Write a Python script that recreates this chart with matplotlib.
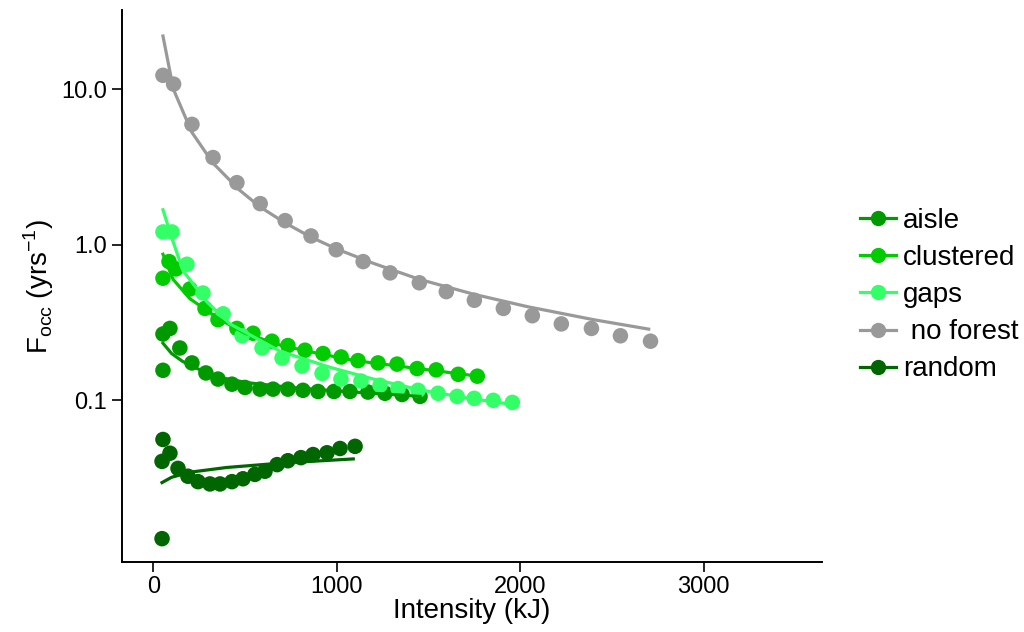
import numpy as np
import matplotlib.pyplot as plt

plt.rcParams['font.family'] = ['Liberation Sans', 'DejaVu Sans']

# points (x in kJ, y in yrs^-1)
aisle_x = [53, 53, 91, 145, 211, 287, 353, 429, 500, 582, 653, 734, 816, 898, 985, 1072, 1170, 1263, 1356, 1454]
aisle_y = [0.267, 0.156, 0.29, 0.217, 0.174, 0.15, 0.137, 0.127, 0.121, 0.118, 0.118, 0.118, 0.116, 0.114,
           0.114, 0.114, 0.113, 0.111, 0.109, 0.106]

clustered_x = [53, 86, 124, 200, 282, 353, 456, 544, 647, 734, 827, 925, 1024, 1116, 1225, 1329, 1438, 1542, 1662, 1766]
clustered_y = [0.61, 0.78, 0.70, 0.52, 0.39, 0.33, 0.29, 0.27, 0.24, 0.225, 0.21, 0.20, 0.19, 0.18, 0.174,
               0.171, 0.16, 0.157, 0.147, 0.143]

gaps_x = [53, 102, 184, 271, 381, 484, 593, 702, 811, 920, 1023, 1132, 1236, 1334, 1443, 1552, 1656, 1749, 1853, 1957]
gaps_y = [1.21, 1.21, 0.75, 0.49, 0.36, 0.26, 0.217, 0.187, 0.166, 0.149, 0.137, 0.133, 0.125, 0.119, 0.116,
          0.111, 0.106, 0.103, 0.100, 0.097]

noforest_x = [53, 111, 211, 326, 456, 583, 719, 860, 997, 1144, 1291, 1450, 1597, 1750, 1908, 2066, 2224, 2388, 2546, 2710]
noforest_y = [12.3, 10.8, 5.95, 3.64, 2.51, 1.84, 1.43, 1.14, 0.93, 0.78, 0.66, 0.57, 0.50, 0.44, 0.39, 0.35,
              0.31, 0.29, 0.26, 0.24]

random_x = [48, 53, 91, 48, 135, 189, 244, 309, 364, 429, 489, 554, 609, 675, 734, 805, 871, 947, 1018, 1100]
random_y = [0.0405, 0.056, 0.0457, 0.0129, 0.0365, 0.0325, 0.030, 0.029, 0.029, 0.030, 0.0313, 0.0334, 0.035,
            0.0386, 0.0409, 0.0428, 0.0448, 0.046, 0.049, 0.0506]

# fitted curves
aisle_fx = [53, 100, 160, 326, 510, 750, 1000, 1250, 1454]
aisle_fy = [0.233, 0.2, 0.178, 0.143, 0.13, 0.121, 0.115, 0.11, 0.106]
clustered_fx = [53, 108, 200, 365, 500, 700, 900, 1100, 1300, 1500, 1770]
clustered_fy = [0.87, 0.6, 0.45, 0.33, 0.27, 0.225, 0.2, 0.18, 0.168, 0.157, 0.143]
gaps_fx = [53, 102, 163, 292, 418, 691, 964, 1200, 1450, 1700, 1957]
gaps_fy = [1.68, 1.1, 0.68, 0.43, 0.31, 0.207, 0.163, 0.137, 0.117, 0.104, 0.094]
noforest_fx = [53, 110, 210, 326, 470, 583, 720, 860, 1000, 1200, 1450, 1750, 2040, 2400, 2700]
noforest_fy = [22, 10, 5.3, 3.35, 2.25, 1.75, 1.38, 1.12, 0.94, 0.76, 0.6, 0.48, 0.4, 0.33, 0.287]
random_fx = [48, 100, 200, 400, 700, 1090]
random_fy = [0.0296, 0.032, 0.0345, 0.037, 0.0395, 0.042]

labels = ['aisle', 'clustered', 'gaps', ' no forest', 'random']
colors = ['#009900', '#00CC00', '#33FF66', '#999999', '#006600']
pts = [(aisle_x, aisle_y), (clustered_x, clustered_y), (gaps_x, gaps_y),
       (noforest_x, noforest_y), (random_x, random_y)]
fits = [(aisle_fx, aisle_fy), (clustered_fx, clustered_fy), (gaps_fx, gaps_fy),
        (noforest_fx, noforest_fy), (random_fx, random_fy)]

fig = plt.figure(figsize=(10.24, 6.32), dpi=100)
ax = fig.add_axes([0.119, 0.111, 0.684, 0.873])

for (x, y), c in zip(pts, colors):
    ax.scatter(x, y, s=125, color=c, edgecolors='none', zorder=2)
for (x, y), c, lab in zip(fits, colors, labels):
    ax.plot(x, y, color=c, lw=2.3, zorder=3)
    # legend proxy
    ax.plot([], [], color=c, lw=2.3, marker='o', markersize=10, label=lab)

ax.set_yscale('log')
ax.set_xlim(-171, 3646)
ax.set_ylim(0.00915, 32.3)
ax.set_xticks([0, 1000, 2000, 3000])
ax.set_yticks([0.1, 1, 10])
ax.set_yticklabels(['0.1', '1.0', '10.0'])
ax.minorticks_off()
ax.tick_params(labelsize=17, length=7, width=1.2, color='black', labelcolor='black')

for s in ['top', 'right']:
    ax.spines[s].set_visible(False)
for s in ['left', 'bottom']:
    ax.spines[s].set_linewidth(1.4)

ax.set_xlabel('Intensity (kJ)', fontsize=20, labelpad=0)
ax.set_ylabel(r'F$_{\mathregular{occ}}$ (yrs$^{\mathregular{-1}}$)', fontsize=20, labelpad=4)

fig.legend(loc='center left', bbox_to_anchor=(0.840, 0.533), frameon=False, fontsize=20,
           handlelength=1.3, labelspacing=0.4, handletextpad=0.25, borderpad=0, borderaxespad=0)

fig.savefig('out.png', dpi=100)
